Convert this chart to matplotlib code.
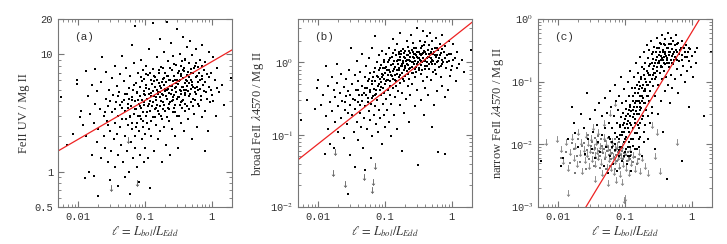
import numpy as np
import matplotlib
matplotlib.use("Agg")
import matplotlib.pyplot as plt
from matplotlib.ticker import LogLocator, NullFormatter, FixedLocator, FixedFormatter

plt.rcParams['mathtext.fontset'] = 'stix'

# ---- data (x = L_bol/L_Edd) ----

# panel (a): FeII UV / Mg II
a_pts = [
    (0.0055, 4.3), (0.0068, 1.7), (0.0085, 2.1), (0.0095, 5.6), (0.0097, 6.1), (0.0105, 2.9), (0.011, 3.3),
    (0.012, 2.5), (0.0125, 0.88), (0.013, 2.0), (0.013, 7.2), (0.014, 4.4), (0.0145, 1.0), (0.015, 3.1),
    (0.016, 5.5), (0.016, 1.4), (0.017, 0.92), (0.017, 2.6), (0.018, 3.8), (0.018, 7.5), (0.019, 1.8),
    (0.019, 4.9), (0.02, 0.62), (0.02, 2.3), (0.021, 3.4), (0.022, 1.3), (0.022, 5.8), (0.023, 9.5),
    (0.024, 2.0), (0.024, 3.0), (0.025, 1.6), (0.026, 4.2), (0.026, 7.1), (0.027, 2.7), (0.028, 1.2),
    (0.028, 3.6), (0.029, 5.0), (0.03, 2.2), (0.03, 0.85), (0.031, 1.5), (0.032, 3.2), (0.032, 6.3),
    (0.033, 4.5), (0.034, 1.9), (0.035, 2.6), (0.035, 8.0), (0.036, 1.1), (0.037, 3.9), (0.038, 5.4),
    (0.038, 2.1), (0.039, 1.4), (0.04, 3.0), (0.04, 0.75), (0.041, 4.8), (0.042, 2.4), (0.043, 6.8),
    (0.044, 1.7), (0.045, 3.5), (0.045, 9.7), (0.046, 2.8), (0.047, 1.2), (0.048, 4.1), (0.049, 5.9),
    (0.05, 2.0), (0.05, 0.9), (0.051, 3.3), (0.052, 7.6), (0.053, 1.5), (0.054, 4.6), (0.055, 2.5),
    (0.056, 3.8), (0.057, 1.0), (0.058, 5.2), (0.059, 2.9), (0.06, 0.65), (0.06, 6.5), (0.061, 1.8),
    (0.062, 3.6), (0.063, 4.3), (0.064, 2.3), (0.065, 12.0), (0.066, 1.3), (0.067, 5.0), (0.068, 3.1),
    (0.069, 8.4), (0.07, 2.0), (0.07, 4.0), (0.071, 1.6), (0.072, 17.5), (0.073, 3.4), (0.074, 5.7),
    (0.075, 2.6), (0.076, 1.1), (0.077, 4.7), (0.078, 3.0), (0.079, 6.9), (0.08, 2.2), (0.08, 0.82),
    (0.082, 3.8), (0.083, 5.3), (0.084, 1.4), (0.085, 4.4), (0.086, 2.8), (0.087, 9.0), (0.088, 3.5),
    (0.089, 1.9), (0.09, 5.9), (0.091, 4.1), (0.092, 2.4), (0.093, 7.3), (0.094, 3.2), (0.095, 1.2),
    (0.096, 4.9), (0.097, 3.7), (0.098, 6.2), (0.099, 2.1), (0.1, 4.5), (0.1, 1.6), (0.102, 5.5),
    (0.104, 3.0), (0.105, 8.0), (0.106, 2.6), (0.108, 4.2), (0.11, 6.7), (0.11, 1.3), (0.112, 3.6),
    (0.114, 5.1), (0.115, 2.3), (0.116, 11.0), (0.118, 4.0), (0.12, 0.72), (0.12, 3.3), (0.122, 6.0),
    (0.124, 4.7), (0.125, 2.0), (0.127, 5.6), (0.13, 3.9), (0.13, 18.5), (0.132, 7.5), (0.134, 2.9),
    (0.136, 4.4), (0.138, 1.5), (0.14, 5.3), (0.14, 3.4), (0.142, 6.4), (0.145, 4.1), (0.147, 2.5),
    (0.15, 9.4), (0.15, 5.0), (0.152, 3.7), (0.155, 1.9), (0.157, 4.8), (0.16, 6.9), (0.16, 3.1),
    (0.163, 5.7), (0.165, 2.2), (0.168, 4.3), (0.17, 13.5), (0.17, 3.6), (0.173, 7.8), (0.175, 5.2),
    (0.178, 2.8), (0.18, 4.6), (0.18, 1.2), (0.183, 6.2), (0.186, 3.9), (0.19, 5.5), (0.19, 10.5),
    (0.193, 2.4), (0.196, 4.9), (0.2, 3.3), (0.2, 7.0), (0.204, 5.8), (0.208, 1.7), (0.21, 4.2),
    (0.21, 19.0), (0.214, 6.6), (0.218, 3.5), (0.22, 5.1), (0.22, 8.7), (0.225, 2.7), (0.23, 4.7),
    (0.23, 6.0), (0.235, 3.9), (0.24, 1.4), (0.24, 5.4), (0.245, 12.5), (0.25, 4.0), (0.25, 7.3),
    (0.255, 2.3), (0.26, 5.9), (0.26, 3.2), (0.265, 9.6), (0.27, 4.5), (0.275, 6.5), (0.28, 2.0),
    (0.28, 5.2), (0.285, 3.7), (0.29, 8.1), (0.295, 4.8), (0.3, 16.5), (0.3, 6.1), (0.305, 3.0),
    (0.31, 5.6), (0.315, 1.6), (0.32, 7.2), (0.325, 4.3), (0.33, 10.0), (0.335, 5.0), (0.34, 2.6),
    (0.345, 6.8), (0.35, 3.9), (0.355, 8.8), (0.36, 5.3), (0.365, 14.0), (0.37, 4.1), (0.375, 6.3),
    (0.38, 2.2), (0.385, 7.7), (0.39, 5.7), (0.395, 3.3), (0.4, 9.2), (0.4, 4.7), (0.41, 6.0),
    (0.42, 11.5), (0.42, 3.6), (0.43, 5.4), (0.44, 7.1), (0.44, 2.8), (0.45, 4.4), (0.46, 8.4),
    (0.46, 6.4), (0.47, 13.0), (0.48, 3.9), (0.48, 5.1), (0.49, 7.5), (0.5, 1.9), (0.5, 9.9),
    (0.51, 5.8), (0.52, 4.2), (0.53, 6.9), (0.54, 3.1), (0.55, 8.0), (0.56, 5.2), (0.57, 11.0),
    (0.58, 4.6), (0.6, 6.6), (0.6, 2.4), (0.62, 7.8), (0.63, 5.0), (0.65, 3.6), (0.66, 9.0),
    (0.68, 4.1), (0.7, 6.2), (0.7, 12.0), (0.72, 2.9), (0.74, 5.5), (0.76, 7.4), (0.78, 3.3),
    (0.8, 8.6), (0.8, 1.5), (0.82, 4.8), (0.85, 6.8), (0.87, 2.2), (0.9, 10.5), (0.92, 5.3),
    (0.95, 3.9), (0.98, 7.0), (1.0, 4.5), (1.05, 9.4), (1.1, 6.0), (1.15, 3.0), (1.2, 7.6),
    (1.3, 4.8), (1.4, 5.5), (1.5, 3.7), (1.9, 6.3),
]
a_core = [
    (0.085, 3.6), (0.095, 4.6), (0.105, 5.2), (0.115, 3.8), (0.125, 4.4), (0.135, 5.9), (0.145, 3.5),
    (0.155, 4.6), (0.165, 5.4), (0.175, 4.0), (0.185, 3.4), (0.195, 6.3), (0.205, 4.4), (0.215, 5.0),
    (0.225, 3.8), (0.235, 6.1), (0.245, 4.6), (0.255, 5.4), (0.265, 4.1), (0.275, 3.5), (0.285, 6.0),
    (0.295, 5.3), (0.31, 4.3), (0.32, 5.9), (0.33, 3.7), (0.34, 4.9), (0.35, 6.5), (0.36, 4.0),
    (0.37, 5.3), (0.38, 7.2), (0.39, 4.5), (0.41, 5.0), (0.43, 6.7), (0.45, 5.7), (0.47, 4.6),
    (0.49, 6.1), (0.52, 5.3), (0.55, 4.8), (0.58, 6.4), (0.61, 5.8), (0.64, 7.0), (0.67, 5.1),
    (0.71, 6.6), (0.75, 4.9), (0.06, 3.0), (0.065, 4.1), (0.07, 3.4), (0.075, 4.8), (0.045, 3.9),
    (0.05, 4.6), (0.055, 3.5),
    (0.052, 2.8), (0.058, 4.2), (0.063, 2.6), (0.068, 5.5), (0.073, 2.4), (0.078, 4.1), (0.083, 3.0),
    (0.088, 6.4), (0.093, 2.7), (0.098, 3.9), (0.103, 6.8), (0.108, 3.2), (0.113, 4.6), (0.118, 7.0),
    (0.123, 2.7), (0.128, 3.6), (0.133, 4.9), (0.138, 6.6), (0.143, 2.9), (0.148, 4.3), (0.153, 6.0),
    (0.158, 3.3), (0.163, 7.3), (0.168, 4.8), (0.173, 3.0), (0.178, 5.8), (0.183, 4.5), (0.188, 7.7),
    (0.193, 3.7), (0.198, 5.1), (0.21, 2.9), (0.22, 6.6), (0.23, 3.4), (0.24, 7.6), (0.25, 5.0),
    (0.26, 4.3), (0.27, 8.2), (0.28, 3.2), (0.29, 5.7), (0.3, 4.2), (0.31, 7.0), (0.32, 3.0),
    (0.33, 6.1), (0.34, 8.0), (0.35, 4.6), (0.36, 3.5), (0.37, 7.4), (0.38, 5.0), (0.39, 9.0),
    (0.4, 3.8), (0.42, 5.9), (0.44, 4.9), (0.46, 3.4), (0.48, 6.9), (0.5, 5.5), (0.52, 3.6),
    (0.54, 7.6), (0.56, 4.1), (0.58, 8.5), (0.6, 5.3), (0.63, 3.8), (0.66, 6.0), (0.69, 4.4),
    (0.72, 8.0), (0.78, 5.8), (0.84, 4.2), (0.9, 6.4), (0.96, 5.0), (1.05, 4.0), (1.2, 5.2),
    (0.035, 3.4), (0.04, 4.4), (0.042, 3.7), (0.03, 4.0), (0.025, 3.2), (0.028, 2.5),
]
a_lim = [(0.031, 0.72), (0.075, 0.80), (0.056, 1.85)]

# panel (b): broad FeII 4570 / Mg II
b_pts = [
    (0.0055, 0.16), (0.0068, 0.30), (0.009, 0.23), (0.0095, 0.44), (0.01, 0.58), (0.011, 0.26),
    (0.012, 0.35), (0.0125, 0.054), (0.013, 0.90), (0.013, 0.18), (0.014, 0.48), (0.014, 0.12),
    (0.015, 0.075), (0.015, 0.28), (0.016, 0.62), (0.016, 0.21), (0.017, 0.41), (0.017, 0.065),
    (0.018, 0.15), (0.018, 0.33), (0.019, 0.52), (0.019, 0.95), (0.02, 0.25), (0.02, 0.11),
    (0.021, 0.38), (0.022, 0.70), (0.022, 0.17), (0.023, 0.29), (0.024, 0.46), (0.024, 0.09),
    (0.025, 0.22), (0.026, 0.60), (0.026, 0.34), (0.027, 0.14), (0.028, 0.015), (0.028, 0.40),
    (0.029, 0.80), (0.03, 0.26), (0.03, 0.052), (0.031, 1.6), (0.032, 0.19), (0.032, 0.50),
    (0.033, 0.31), (0.034, 0.11), (0.035, 0.68), (0.035, 0.23), (0.036, 0.036), (0.037, 0.42),
    (0.038, 0.15), (0.038, 1.05), (0.039, 0.28), (0.04, 0.56), (0.04, 0.085), (0.041, 0.36),
    (0.042, 0.20), (0.043, 0.75), (0.044, 0.13), (0.045, 0.47), (0.045, 0.29), (0.046, 1.3),
    (0.047, 0.065), (0.048, 0.38), (0.049, 0.17), (0.05, 0.62), (0.05, 0.25), (0.051, 0.033),
    (0.052, 0.90), (0.053, 0.44), (0.054, 0.12), (0.055, 0.32), (0.056, 0.55), (0.057, 0.21),
    (0.058, 1.15), (0.059, 0.39), (0.06, 0.16), (0.06, 0.72), (0.061, 0.27), (0.062, 0.047),
    (0.063, 0.50), (0.064, 0.095), (0.065, 1.6), (0.066, 0.34), (0.067, 0.64), (0.068, 0.19),
    (0.069, 0.43), (0.07, 0.85), (0.07, 2.3), (0.071, 0.25), (0.072, 0.55), (0.073, 0.14),
    (0.074, 0.37), (0.075, 1.0), (0.076, 0.66), (0.077, 0.30), (0.078, 0.48), (0.079, 0.11),
    (0.08, 0.78), (0.08, 0.22), (0.082, 1.25), (0.083, 0.41), (0.084, 0.60), (0.085, 0.17),
    (0.086, 0.92), (0.087, 0.35), (0.088, 0.53), (0.089, 0.075), (0.09, 1.45), (0.091, 0.70),
    (0.092, 0.27), (0.093, 0.45), (0.094, 0.84), (0.095, 0.19), (0.096, 0.60), (0.097, 1.1),
    (0.098, 0.38), (0.099, 0.13), (0.1, 0.72), (0.1, 0.50), (0.102, 1.3), (0.104, 0.31),
    (0.105, 0.88), (0.106, 0.57), (0.108, 0.22), (0.11, 1.0), (0.11, 0.42), (0.112, 0.68),
    (0.114, 1.6), (0.115, 0.15), (0.116, 0.80), (0.118, 0.36), (0.12, 1.15), (0.12, 0.55),
    (0.122, 0.095), (0.124, 0.93), (0.125, 0.27), (0.127, 0.65), (0.13, 1.35), (0.13, 0.45),
    (0.132, 2.1), (0.134, 0.76), (0.136, 0.19), (0.138, 1.05), (0.14, 0.58), (0.14, 0.33),
    (0.142, 0.86), (0.145, 1.25), (0.147, 0.48), (0.15, 0.70), (0.15, 1.8), (0.152, 0.12),
    (0.155, 0.95), (0.157, 0.40), (0.16, 1.4), (0.16, 0.62), (0.163, 0.80), (0.165, 0.26),
    (0.168, 1.1), (0.17, 2.6), (0.17, 0.52), (0.173, 0.90), (0.175, 1.3), (0.178, 0.38),
    (0.18, 0.72), (0.18, 0.06), (0.183, 1.55), (0.186, 0.98), (0.19, 0.56), (0.19, 1.2),
    (0.193, 0.20), (0.196, 0.84), (0.2, 1.45), (0.2, 0.66), (0.204, 1.05), (0.208, 0.31),
    (0.21, 0.76), (0.21, 2.0), (0.214, 1.25), (0.218, 0.47), (0.22, 0.92), (0.22, 1.65),
    (0.225, 0.15), (0.23, 1.1), (0.23, 0.60), (0.235, 1.35), (0.24, 0.36), (0.24, 0.85),
    (0.245, 2.4), (0.25, 1.0), (0.25, 1.5), (0.255, 0.50), (0.26, 1.2), (0.26, 0.72),
    (0.265, 1.85), (0.27, 0.95), (0.275, 1.3), (0.28, 0.25), (0.28, 1.05), (0.285, 0.62),
    (0.29, 1.6), (0.295, 0.88), (0.3, 3.0), (0.3, 1.2), (0.305, 0.42), (0.31, 1.0),
    (0.315, 0.038), (0.32, 1.4), (0.325, 0.78), (0.33, 2.0), (0.335, 1.1), (0.34, 0.30),
    (0.345, 1.25), (0.35, 0.70), (0.355, 1.7), (0.36, 1.0), (0.365, 2.7), (0.37, 0.55),
    (0.375, 1.15), (0.38, 0.19), (0.385, 1.45), (0.39, 0.90), (0.395, 0.45), (0.4, 1.9),
    (0.4, 1.05), (0.41, 1.3), (0.42, 2.3), (0.42, 0.62), (0.43, 1.0), (0.44, 1.5),
    (0.44, 0.35), (0.45, 0.82), (0.46, 1.75), (0.46, 1.2), (0.47, 2.6), (0.48, 0.58),
    (0.48, 1.0), (0.49, 1.4), (0.5, 0.13), (0.5, 2.0), (0.51, 1.1), (0.52, 0.75),
    (0.53, 1.3), (0.54, 0.26), (0.55, 1.6), (0.56, 0.95), (0.57, 2.2), (0.58, 0.70),
    (0.6, 1.25), (0.6, 0.40), (0.62, 1.5), (0.63, 0.058), (0.65, 0.88), (0.66, 1.8),
    (0.68, 0.62), (0.7, 1.1), (0.7, 2.4), (0.72, 0.48), (0.74, 1.0), (0.76, 1.4),
    (0.78, 0.33), (0.8, 1.7), (0.8, 0.054), (0.82, 0.85), (0.85, 1.25), (0.87, 0.42),
    (0.9, 2.0), (0.92, 1.05), (0.95, 0.65), (0.98, 1.3), (1.0, 0.90), (1.05, 1.8),
    (1.1, 1.15), (1.15, 0.55), (1.2, 1.4), (1.3, 0.95), (1.4, 1.1), (1.5, 0.75), (1.9, 1.5),
]
b_core = [
    (0.08, 0.5), (0.09, 0.62), (0.1, 0.85), (0.11, 0.58), (0.12, 0.75), (0.13, 0.95),
    (0.14, 0.68), (0.15, 1.05), (0.16, 0.85), (0.17, 1.2), (0.18, 0.95), (0.19, 0.78),
    (0.2, 1.15), (0.21, 0.95), (0.22, 1.25), (0.23, 0.82), (0.24, 1.05), (0.25, 0.88),
    (0.26, 1.4), (0.27, 1.15), (0.28, 0.82), (0.29, 1.25), (0.3, 0.95), (0.32, 1.15),
    (0.34, 0.92), (0.36, 1.3), (0.38, 1.05), (0.4, 0.82), (0.42, 1.15), (0.45, 1.3),
    (0.48, 1.15), (0.5, 0.95), (0.53, 1.05), (0.56, 1.25), (0.6, 1.0), (0.64, 1.15),
    (0.68, 1.35), (0.72, 0.95), (0.06, 0.42), (0.065, 0.55), (0.07, 0.36), (0.05, 0.45),
    (0.055, 0.28), (0.045, 0.35),
    (0.052, 0.35), (0.058, 0.6), (0.063, 0.32), (0.068, 0.75), (0.073, 0.42), (0.078, 0.62),
    (0.083, 0.85), (0.088, 0.46), (0.093, 0.68), (0.098, 1.0), (0.103, 0.55), (0.108, 0.78),
    (0.113, 1.1), (0.118, 0.48), (0.123, 0.68), (0.128, 1.2), (0.133, 0.6), (0.138, 0.82),
    (0.143, 1.5), (0.148, 0.55), (0.153, 0.78), (0.158, 1.1), (0.163, 1.3), (0.168, 0.68),
    (0.173, 1.45), (0.178, 0.9), (0.183, 0.6), (0.188, 1.05), (0.193, 1.35), (0.198, 0.9),
    (0.21, 1.1), (0.22, 0.7), (0.23, 1.45), (0.24, 1.2), (0.25, 0.72), (0.26, 1.0),
    (0.27, 1.6), (0.28, 1.3), (0.29, 0.75), (0.3, 1.4), (0.31, 1.15), (0.32, 0.85),
    (0.33, 1.3), (0.34, 1.6), (0.35, 1.05), (0.36, 0.8), (0.37, 1.35), (0.38, 1.75),
    (0.39, 1.1), (0.4, 1.4), (0.42, 0.9), (0.44, 1.2), (0.46, 0.95), (0.48, 1.35),
    (0.5, 1.55), (0.52, 1.05), (0.54, 1.4), (0.56, 0.8), (0.58, 1.2), (0.6, 1.6),
    (0.63, 1.05), (0.66, 1.25), (0.69, 0.9), (0.72, 1.55), (0.78, 1.15), (0.84, 1.0),
    (0.9, 1.3), (0.96, 0.8), (1.05, 1.1), (1.2, 0.85), (0.035, 0.3), (0.04, 0.42),
    (0.042, 0.26), (0.03, 0.36), (0.025, 0.28), (0.028, 0.2),
]
b_lim = [(0.0165, 0.030), (0.0178, 0.057), (0.0255, 0.021), (0.049, 0.026),
         (0.066, 0.022), (0.065, 0.017), (0.072, 0.037)]

# panel (c): narrow FeII 4570 / Mg II, detections
c_pts = [
    (0.0055, 0.0055), (0.011, 0.0045), (0.012, 0.006), (0.014, 0.012), (0.016, 0.04), (0.017, 0.022),
    (0.018, 0.015), (0.02, 0.009), (0.022, 0.03), (0.024, 0.018), (0.025, 0.007), (0.027, 0.065),
    (0.028, 0.012), (0.03, 0.025), (0.032, 0.0085), (0.033, 0.016), (0.035, 0.035), (0.036, 0.006),
    (0.038, 0.02), (0.04, 0.011), (0.041, 0.045), (0.043, 0.0075), (0.045, 0.028), (0.046, 0.014),
    (0.048, 0.0045), (0.05, 0.018), (0.05, 0.055), (0.052, 0.009), (0.054, 0.032), (0.055, 0.0035),
    (0.057, 0.013), (0.058, 0.022), (0.06, 0.07), (0.06, 0.0065), (0.062, 0.04), (0.063, 0.011),
    (0.065, 0.018), (0.066, 0.0048), (0.068, 0.028), (0.07, 0.09), (0.07, 0.008), (0.072, 0.015),
    (0.073, 0.05), (0.075, 0.0038), (0.076, 0.022), (0.078, 0.035), (0.08, 0.012), (0.08, 0.0065),
    (0.082, 0.06), (0.083, 0.019), (0.085, 0.009), (0.086, 0.027), (0.088, 0.12), (0.089, 0.014),
    (0.09, 0.045), (0.091, 0.0055), (0.092, 0.02), (0.094, 0.032), (0.095, 0.011), (0.096, 0.075),
    (0.098, 0.016), (0.1, 0.025), (0.1, 0.0075), (0.102, 0.05), (0.104, 0.013), (0.105, 0.036),
    (0.107, 0.0048), (0.108, 0.021), (0.11, 0.1), (0.11, 0.009), (0.112, 0.03), (0.114, 0.016),
    (0.115, 0.06), (0.117, 0.0065), (0.118, 0.042), (0.12, 0.022), (0.12, 0.15), (0.122, 0.012),
    (0.124, 0.034), (0.125, 0.0038), (0.127, 0.08), (0.13, 0.018), (0.13, 0.05), (0.132, 0.027),
    (0.134, 0.0095), (0.136, 0.12), (0.138, 0.04), (0.14, 0.015), (0.14, 0.065), (0.142, 0.025),
    (0.145, 0.2), (0.147, 0.034), (0.15, 0.0085), (0.15, 0.09), (0.152, 0.05), (0.155, 0.02),
    (0.157, 0.14), (0.16, 0.03), (0.16, 0.075), (0.163, 0.012), (0.165, 0.045), (0.168, 0.25),
    (0.17, 0.06), (0.17, 0.022), (0.173, 0.11), (0.175, 0.038), (0.178, 0.0065), (0.18, 0.17),
    (0.18, 0.08), (0.183, 0.028), (0.186, 0.055), (0.19, 0.3), (0.19, 0.13), (0.193, 0.016),
    (0.196, 0.07), (0.2, 0.045), (0.2, 0.2), (0.204, 0.1), (0.208, 0.035), (0.21, 0.15),
    (0.21, 0.38), (0.214, 0.06), (0.218, 0.012), (0.22, 0.24), (0.22, 0.09), (0.225, 0.05),
    (0.23, 0.13), (0.23, 0.32), (0.235, 0.022), (0.24, 0.19), (0.24, 0.07), (0.245, 0.45),
    (0.25, 0.11), (0.25, 0.28), (0.255, 0.04), (0.26, 0.16), (0.26, 0.23), (0.265, 0.085),
    (0.27, 0.36), (0.275, 0.14), (0.28, 0.0085), (0.28, 0.2), (0.285, 0.06), (0.29, 0.3),
    (0.295, 0.12), (0.3, 0.25), (0.3, 0.5), (0.305, 0.17), (0.31, 0.03), (0.315, 0.09),
    (0.32, 0.35), (0.325, 0.21), (0.33, 0.14), (0.335, 0.42), (0.34, 0.05), (0.345, 0.26),
    (0.35, 0.18), (0.355, 0.55), (0.36, 0.11), (0.365, 0.32), (0.37, 0.22), (0.375, 0.016),
    (0.38, 0.4), (0.385, 0.15), (0.39, 0.07), (0.395, 0.28), (0.4, 0.19), (0.4, 0.48),
    (0.41, 0.12), (0.42, 0.34), (0.42, 0.0028), (0.43, 0.24), (0.44, 0.6), (0.44, 0.09),
    (0.45, 0.3), (0.46, 0.17), (0.46, 0.4), (0.47, 0.045), (0.48, 0.22), (0.48, 0.5),
    (0.49, 0.13), (0.5, 0.33), (0.5, 0.26), (0.51, 0.08), (0.52, 0.44), (0.53, 0.19),
    (0.54, 0.3), (0.55, 0.11), (0.56, 0.38), (0.57, 0.23), (0.58, 0.55), (0.6, 0.16),
    (0.6, 0.3), (0.62, 0.065), (0.63, 0.42), (0.65, 0.21), (0.66, 0.32), (0.68, 0.13),
    (0.7, 0.0055), (0.7, 0.27), (0.72, 0.45), (0.74, 0.18), (0.76, 0.35), (0.78, 0.1),
    (0.8, 0.25), (0.82, 0.38), (0.85, 0.15), (0.87, 0.3), (0.9, 0.21), (0.92, 0.04),
    (0.95, 0.33), (0.98, 0.17), (1.0, 0.26), (1.05, 0.12), (1.1, 0.3), (1.15, 0.2),
    (1.2, 0.35), (1.5, 0.028), (1.9, 0.3),
]
c_core = [
    (0.1, 0.012), (0.11, 0.018), (0.12, 0.028), (0.13, 0.035), (0.14, 0.045), (0.15, 0.03),
    (0.16, 0.05), (0.17, 0.04), (0.18, 0.06), (0.19, 0.045), (0.2, 0.075), (0.22, 0.06),
    (0.24, 0.1), (0.26, 0.13), (0.28, 0.11), (0.3, 0.15), (0.32, 0.2), (0.34, 0.17),
    (0.36, 0.24), (0.38, 0.2), (0.4, 0.3), (0.43, 0.2), (0.46, 0.27), (0.5, 0.2),
    (0.55, 0.25), (0.6, 0.22), (0.09, 0.009), (0.08, 0.008), (0.07, 0.01), (0.085, 0.014),
    (0.095, 0.0065), (0.105, 0.0085), (0.115, 0.011),
    (0.06, 0.012), (0.065, 0.009), (0.075, 0.013), (0.085, 0.02), (0.09, 0.016), (0.095, 0.022),
    (0.1, 0.018), (0.105, 0.028), (0.11, 0.024), (0.115, 0.035), (0.12, 0.04), (0.125, 0.02),
    (0.13, 0.06), (0.135, 0.03), (0.14, 0.08), (0.145, 0.05), (0.15, 0.04), (0.155, 0.065),
    (0.16, 0.1), (0.165, 0.035), (0.17, 0.085), (0.175, 0.12), (0.18, 0.05), (0.185, 0.09),
    (0.19, 0.07), (0.195, 0.16), (0.2, 0.11), (0.21, 0.09), (0.22, 0.14), (0.23, 0.18),
    (0.24, 0.13), (0.25, 0.2), (0.26, 0.3), (0.27, 0.18), (0.28, 0.14), (0.29, 0.22),
    (0.3, 0.35), (0.31, 0.2), (0.32, 0.27), (0.33, 0.3), (0.34, 0.22), (0.35, 0.4),
    (0.36, 0.17), (0.37, 0.3), (0.38, 0.25), (0.39, 0.38), (0.41, 0.26), (0.42, 0.22),
    (0.44, 0.35), (0.45, 0.2), (0.47, 0.3), (0.49, 0.4), (0.52, 0.28), (0.54, 0.22),
    (0.57, 0.32), (0.6, 0.4), (0.64, 0.28), (0.68, 0.35), (0.72, 0.22), (0.78, 0.3),
    (0.85, 0.25), (0.9, 0.35), (0.12, 0.009), (0.13, 0.012), (0.14, 0.022), (0.15, 0.015),
    (0.16, 0.018), (0.17, 0.013), (0.18, 0.025), (0.2, 0.02), (0.22, 0.028), (0.25, 0.032),
    (0.11, 0.0065), (0.125, 0.0075), (0.14, 0.0085), (0.16, 0.009), (0.19, 0.011),
]
# panel (c): grey points (weak narrow FeII) and grey upper limits
c_grey = [
    (0.011, 0.006), (0.013, 0.0075), (0.015, 0.005), (0.017, 0.0085), (0.019, 0.0065), (0.021, 0.0052),
    (0.023, 0.0095), (0.025, 0.0068), (0.027, 0.0082), (0.029, 0.0058), (0.031, 0.0095), (0.033, 0.0072),
    (0.035, 0.0088), (0.037, 0.006), (0.039, 0.0105), (0.041, 0.0078), (0.043, 0.0065), (0.045, 0.0095),
    (0.047, 0.0072), (0.049, 0.0085), (0.051, 0.0058), (0.053, 0.0078), (0.055, 0.0092), (0.057, 0.0068),
    (0.059, 0.0082), (0.061, 0.0058), (0.063, 0.0088), (0.065, 0.0072), (0.067, 0.0095), (0.069, 0.0062),
    (0.071, 0.0078), (0.073, 0.0068), (0.075, 0.0085), (0.077, 0.0055), (0.079, 0.0075), (0.081, 0.0062),
    (0.083, 0.0088), (0.086, 0.0068), (0.089, 0.0078), (0.092, 0.0058), (0.095, 0.0072), (0.098, 0.0062),
    (0.102, 0.0068), (0.106, 0.0055), (0.11, 0.0075), (0.115, 0.0062), (0.12, 0.0058), (0.125, 0.0068),
    (0.13, 0.0052), (0.14, 0.0062), (0.15, 0.0048), (0.16, 0.0058), (0.02, 0.012), (0.024, 0.0105),
    (0.028, 0.014), (0.032, 0.011), (0.036, 0.0125), (0.04, 0.0135), (0.044, 0.012), (0.05, 0.0115),
    (0.056, 0.0125), (0.062, 0.011), (0.07, 0.012), (0.08, 0.011), (0.016, 0.0105), (0.018, 0.0035),
    (0.026, 0.004), (0.034, 0.0045), (0.042, 0.0042), (0.052, 0.004), (0.06, 0.0045), (0.07, 0.004),
    (0.085, 0.0042),
]
c_lim = [
    (0.0065, 0.011), (0.0095, 0.012), (0.011, 0.0085), (0.012, 0.0055), (0.013, 0.011), (0.014, 0.0042),
    (0.014, 0.0017), (0.015, 0.0075), (0.016, 0.013), (0.017, 0.006), (0.018, 0.0095), (0.019, 0.0048),
    (0.02, 0.016), (0.021, 0.0072), (0.022, 0.011), (0.023, 0.0038), (0.024, 0.0085), (0.025, 0.0056),
    (0.026, 0.014), (0.027, 0.007), (0.028, 0.0105), (0.029, 0.0045), (0.03, 0.008), (0.031, 0.0125),
    (0.032, 0.0058), (0.033, 0.019), (0.034, 0.0092), (0.035, 0.0068), (0.036, 0.0048), (0.037, 0.011),
    (0.038, 0.0078), (0.039, 0.0155), (0.04, 0.0062), (0.042, 0.0095), (0.044, 0.0052), (0.045, 0.0035),
    (0.046, 0.0082), (0.048, 0.013), (0.05, 0.0068), (0.052, 0.0105), (0.054, 0.0044), (0.055, 0.0024),
    (0.056, 0.0088), (0.058, 0.0058), (0.06, 0.032), (0.06, 0.0075), (0.062, 0.0042), (0.064, 0.0115),
    (0.066, 0.0065), (0.068, 0.0036), (0.07, 0.0088), (0.072, 0.0055), (0.074, 0.0027), (0.076, 0.0098),
    (0.078, 0.0062), (0.08, 0.0045), (0.082, 0.0078), (0.085, 0.0034), (0.088, 0.0066), (0.09, 0.0095),
    (0.092, 0.0048), (0.095, 0.0013), (0.1, 0.0014), (0.1, 0.0075), (0.105, 0.0042), (0.11, 0.006),
    (0.115, 0.0035), (0.12, 0.0085), (0.125, 0.005), (0.13, 0.0068), (0.14, 0.004), (0.15, 0.0055),
    (0.16, 0.0075), (0.17, 0.0038), (0.18, 0.006), (0.2, 0.0045), (0.22, 0.0035), (0.25, 0.02),
    (0.28, 0.0065), (0.3, 0.016), (0.33, 0.0038), (0.6, 0.011), (0.07, 0.045), (0.048, 0.022),
    (0.09, 0.0025), (0.035, 0.0028),
]

# best-fit lines: endpoints
a_fit = ([0.005, 2.0], [1.5, 10.9])
b_fit = ([0.005, 2.0], [0.045, 3.6])
c_fit = ([0.026, 1.31], [0.001, 1.0])

ylabels = ["FeII UV / Mg II", r"broad FeII $\lambda$4570 / Mg II", r"narrow FeII $\lambda$4570 / Mg II"]
tags = ["(a)", "(b)", "(c)"]
ylims = [(0.5, 20), (0.01, 4), (0.001, 1)]
xlabel = r"$\ell\,=\,L_{bol}/L_{Edd}$"

fig = plt.figure(figsize=(7.27, 2.44), dpi=100)
lefts = [58, 298, 538]
axes = [fig.add_axes([l / 727, 1 - 207 / 244, 174 / 727, 188 / 244]) for l in lefts]

mono = 'Liberation Mono'
serif = 'Liberation Serif'
grey = '#555555'


def style(ax, ylab, tag, ylim):
    ax.set_xscale('log')
    ax.set_yscale('log')
    ax.set_xlim(0.005, 2)
    ax.set_ylim(*ylim)
    for s in ax.spines.values():
        s.set_color('#777777')
        s.set_linewidth(0.8)
    ax.tick_params(which='both', direction='in', top=True, right=True, colors='#777777',
                   labelcolor='#333333', labelsize=7.5)
    ax.tick_params(which='major', length=4)
    ax.tick_params(which='minor', length=2)
    ax.xaxis.set_major_locator(FixedLocator([0.01, 0.1, 1]))
    ax.xaxis.set_major_formatter(FixedFormatter(['0.01', '0.1', '1']))
    ax.xaxis.set_minor_locator(LogLocator(base=10, subs=np.arange(2, 10), numticks=20))
    ax.xaxis.set_minor_formatter(NullFormatter())
    ax.yaxis.set_minor_locator(LogLocator(base=10, subs=np.arange(2, 10), numticks=20))
    ax.yaxis.set_minor_formatter(NullFormatter())
    ax.set_xlabel(xlabel, fontsize=9, color='#333333', labelpad=2)
    ax.set_ylabel(ylab, fontsize=9, family=serif, color='#333333', labelpad=3)
    ax.text(0.09, 0.89, tag, transform=ax.transAxes, fontsize=8, family=mono, color='#333333')


def draw_pts(ax, pts, color, size=4.5):
    arr = np.array(pts)
    ax.scatter(arr[:, 0], arr[:, 1], s=size, c=color, marker='s', linewidths=0)


def draw_lims(ax, pts, color):
    arr = np.array(pts)
    ax.scatter(arr[:, 0], arr[:, 1], s=22, c=color, marker=r'$\downarrow$', linewidths=0.2)


# (a)
ax = axes[0]
draw_pts(ax, a_pts, 'black')
draw_pts(ax, a_core, 'black')
draw_lims(ax, a_lim, grey)
ax.plot(*a_fit, color='#ee2222', lw=0.9)
style(ax, ylabels[0], tags[0], ylims[0])
ax.yaxis.set_major_locator(FixedLocator([0.5, 1, 10, 20]))
ax.yaxis.set_major_formatter(FixedFormatter(['0.5', '1', '10', '20']))

# (b)
ax = axes[1]
draw_pts(ax, b_pts, 'black')
draw_pts(ax, b_core, 'black')
draw_lims(ax, b_lim, grey)
ax.plot(*b_fit, color='#ee2222', lw=0.9)
style(ax, ylabels[1], tags[1], ylims[1])
ax.yaxis.set_major_locator(FixedLocator([0.01, 0.1, 1]))
ax.yaxis.set_major_formatter(FixedFormatter([r'10$^{-2}$', r'10$^{-1}$', r'10$^{0}$']))

# (c)
ax = axes[2]
draw_pts(ax, c_grey, '#777777')
draw_lims(ax, c_lim, '#777777')
draw_pts(ax, c_pts, 'black')
draw_pts(ax, c_core, 'black')
ax.plot(*c_fit, color='#ee2222', lw=0.9)
style(ax, ylabels[2], tags[2], ylims[2])
ax.yaxis.set_major_locator(FixedLocator([0.001, 0.01, 0.1, 1]))
ax.yaxis.set_major_formatter(FixedFormatter([r'10$^{-3}$', r'10$^{-2}$', r'10$^{-1}$', r'10$^{0}$']))

for ax in axes:
    for lab in ax.get_xticklabels() + ax.get_yticklabels():
        lab.set_family(mono)

fig.savefig('out.png', dpi=100)
